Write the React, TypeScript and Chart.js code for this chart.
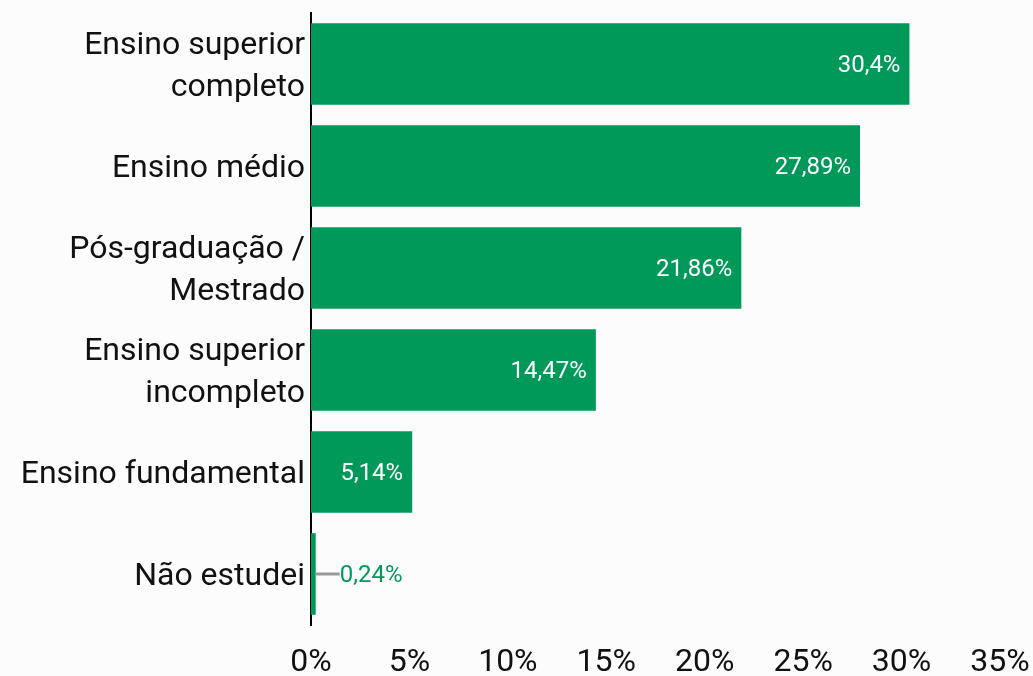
import React, { useEffect, useRef } from "react";
import { Chart, registerables } from "chart.js";

Chart.register(...registerables);

const categories: (string | string[])[] = [
  ["Ensino superior", "completo"],
  "Ensino médio",
  ["Pós-graduação /", "Mestrado"],
  ["Ensino superior", "incompleto"],
  "Ensino fundamental",
  "Não estudei",
];
const values = [30.4, 27.89, 21.86, 14.47, 5.14, 0.24];
const valueLabels = ["30,4%", "27,89%", "21,86%", "14,47%", "5,14%", "0,24%"];
const xTicks = [0, 5, 10, 15, 20, 25, 30, 35];

const GREEN = "#00995a";
const BG = "#fcfcfc";

const labelPlugin = {
  id: "valueLabels",
  afterDatasetsDraw(chart: any) {
    const ctx = chart.ctx;
    const meta = chart.getDatasetMeta(0);
    ctx.save();
    ctx.font = "24px Roboto";
    ctx.textBaseline = "middle";
    meta.data.forEach((bar: any, i: number) => {
      const text = valueLabels[i];
      const w = ctx.measureText(text).width;
      const barW = bar.x - bar.base;
      const y = bar.y + 2;
      if (barW > w + 16) {
        ctx.fillStyle = "#ffffff";
        ctx.textAlign = "right";
        ctx.fillText(text, bar.x - 9, y);
      } else {
        ctx.strokeStyle = "#999999";
        ctx.lineWidth = 3;
        ctx.beginPath();
        ctx.moveTo(bar.x, bar.y);
        ctx.lineTo(bar.x + 24, bar.y);
        ctx.stroke();
        ctx.fillStyle = GREEN;
        ctx.textAlign = "left";
        ctx.fillText(text, bar.x + 24, y);
      }
    });
    ctx.restore();
  },
};

export default function App() {
  const ref = useRef<HTMLCanvasElement>(null);
  useEffect(() => {
    document.body.style.margin = "0";
    document.body.style.background = BG;
    const chart = new Chart(ref.current!, {
      type: "bar",
      data: {
        labels: categories,
        datasets: [
          {
            data: values,
            backgroundColor: GREEN,
            barPercentage: 0.8,
            categoryPercentage: 1,
          },
        ],
      },
      options: {
        indexAxis: "y",
        responsive: false,
        animation: false,
        layout: { padding: { top: 13, right: 33, left: 0, bottom: 0 } },
        plugins: { legend: { display: false }, tooltip: { enabled: false } },
        scales: {
          x: {
            min: 0,
            max: 35,
            grid: { display: false, drawTicks: false },
            border: { display: false },
            afterBuildTicks(axis: any) {
              axis.ticks = xTicks.map((v) => ({ value: v }));
            },
            afterFit(axis: any) {
              axis.height = 51;
              axis.paddingLeft = 0;
              axis.paddingRight = 0;
            },
            ticks: {
              color: "#111111",
              font: { family: "Roboto", size: 32 },
              padding: 19,
              maxRotation: 0,
              callback: (v: any) => v + "%",
            },
          },
          y: {
            grid: { display: false, drawTicks: false },
            border: { display: true, color: "#000000", width: 2 },
            afterFit(axis: any) {
              axis.width = 311;
              axis.paddingTop = 0;
              axis.paddingBottom = 0;
            },
            ticks: {
              color: "#111111",
              font: { family: "Roboto", size: 32, lineHeight: 1.3 },
              padding: 6,
              labelOffset: 3,
            },
          },
        },
      },
      plugins: [labelPlugin],
    });
    return () => chart.destroy();
  }, []);
  return (
    <div style={{ background: BG, width: 1033, height: 676 }}>
      <canvas ref={ref} width={1033} height={676} />
    </div>
  );
}
